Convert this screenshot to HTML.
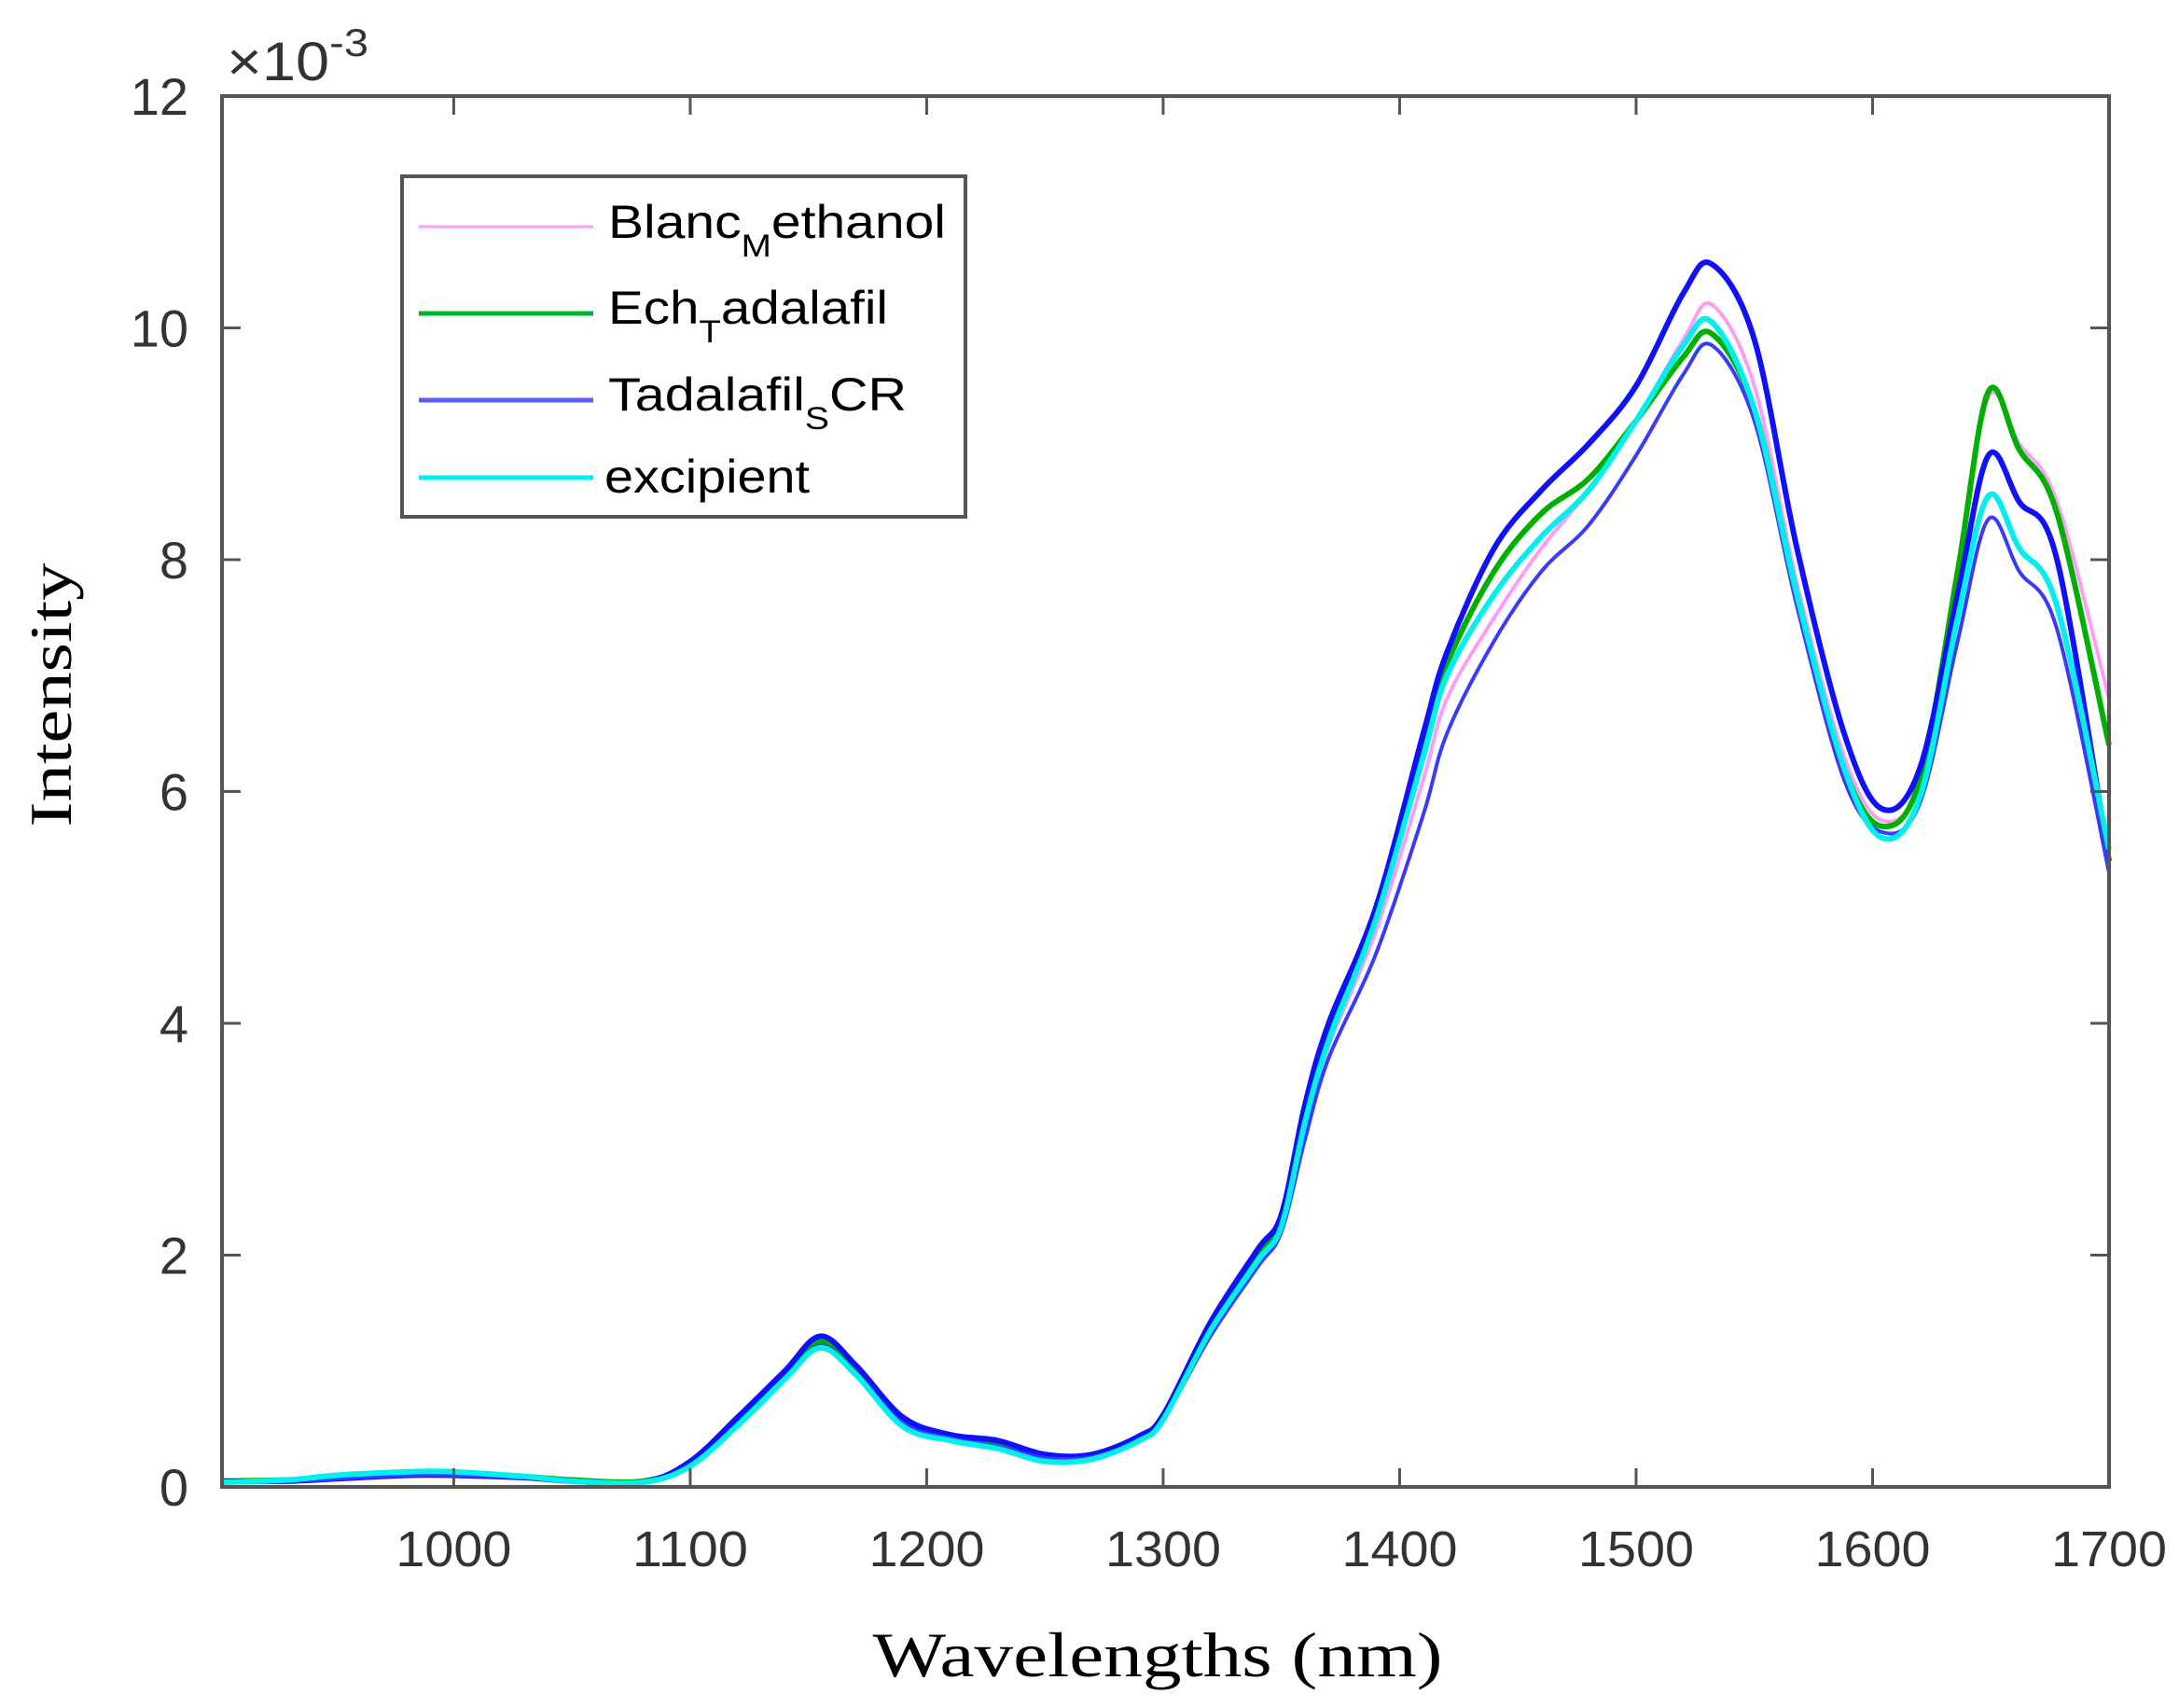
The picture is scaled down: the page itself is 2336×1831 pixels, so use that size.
<!DOCTYPE html>
<html><head><meta charset="utf-8"><style>
body{margin:0;background:#fff;}
svg{display:block;}
</style></head><body>
<svg id="chart" width="2336" height="1831" viewBox="0 0 2336 1831" xmlns="http://www.w3.org/2000/svg">
<rect width="2336" height="1831" fill="#fff"/>
<g id="series"></g>
<g id="axes"></g>
<g id="legend">
  <rect x="431" y="189" width="604" height="365" fill="#fff" stroke="#555" stroke-width="4"/>
  <line x1="449" y1="243" x2="636" y2="243" stroke="#ff9cf5" stroke-width="3"/>
  <text x="652" y="255" font-family="Liberation Sans, sans-serif" font-size="50" textLength="362" lengthAdjust="spacingAndGlyphs">Blanc<tspan font-size="34" dy="20">M</tspan><tspan dy="-20">ethanol</tspan></text>
  <line x1="449" y1="336" x2="636" y2="336" stroke="#00b530" stroke-width="5"/>
  <text x="652" y="347" font-family="Liberation Sans, sans-serif" font-size="50" textLength="300" lengthAdjust="spacingAndGlyphs">Ech<tspan font-size="34" dy="20">T</tspan><tspan dy="-20">adalafil</tspan></text>
  <line x1="449" y1="429" x2="636" y2="429" stroke="#5b5bff" stroke-width="5"/>
  <text x="652" y="440" font-family="Liberation Sans, sans-serif" font-size="50" textLength="320" lengthAdjust="spacingAndGlyphs">Tadalafil<tspan font-size="34" dy="20">S</tspan><tspan dy="-20">CR</tspan></text>
  <line x1="449" y1="512" x2="636" y2="512" stroke="#00f0f0" stroke-width="5"/>
  <text x="648" y="528" font-family="Liberation Sans, sans-serif" font-size="50" textLength="220" lengthAdjust="spacingAndGlyphs">excipient</text>
</g>
<text x="243" y="86" font-family="Liberation Sans, sans-serif" font-size="58" fill="#333" textLength="152" lengthAdjust="spacingAndGlyphs">×10<tspan font-size="42" dy="-26">-3</tspan></text>
<text transform="translate(76,745) rotate(-90)" text-anchor="middle" font-family="Liberation Serif, serif" font-size="64" textLength="283" lengthAdjust="spacingAndGlyphs">Intensity</text>
<text x="1241" y="1797" text-anchor="middle" font-family="Liberation Serif, serif" font-size="68" textLength="611" lengthAdjust="spacingAndGlyphs">Wavelengths (nm)</text>
</svg>
<script>
const wavelengths=[902,930,950,980,1000,1030,1050,1080,1100,1120,1140,1155,1170,1190,1210,1230,1250,1270,1290,1300,1320,1340,1350,1360,1370,1390,1410,1420,1440,1460,1480,1500,1520,1532,1550,1568,1588,1604,1620,1636,1649,1662,1678,1700];
const blancMethanol=[0.05,0.06,0.09,0.12,0.12,0.09,0.06,0.05,0.2,0.55,0.95,1.25,1.0,0.55,0.42,0.35,0.25,0.27,0.42,0.6,1.35,1.95,2.25,3.1,3.8,4.8,6.1,6.8,7.5,8.1,8.6,9.2,9.9,10.2,9.5,7.8,6.3,5.75,6.1,7.9,9.4,9.0,8.5,6.8];
const echTadalafil=[0.05,0.06,0.09,0.12,0.12,0.09,0.06,0.05,0.2,0.57,0.97,1.25,1.0,0.56,0.43,0.36,0.26,0.28,0.44,0.62,1.4,2.0,2.3,3.2,3.95,5.0,6.4,7.1,7.9,8.4,8.7,9.2,9.75,9.95,9.3,7.7,6.2,5.7,6.1,7.9,9.45,8.95,8.4,6.4];
const tadalafilSCR=[0.05,0.05,0.07,0.1,0.1,0.08,0.05,0.04,0.22,0.6,1.0,1.3,1.05,0.6,0.45,0.4,0.28,0.28,0.44,0.62,1.42,2.05,2.35,3.3,4.0,5.0,6.5,7.2,8.1,8.6,9.0,9.5,10.3,10.55,9.9,8.1,6.5,5.85,6.2,7.7,8.9,8.5,8.0,5.4];
const tadalafilSCR2=[0.05,0.05,0.07,0.1,0.1,0.08,0.05,0.04,0.18,0.52,0.92,1.22,0.98,0.55,0.42,0.35,0.25,0.26,0.4,0.58,1.3,1.9,2.2,3.0,3.7,4.6,5.8,6.5,7.3,7.9,8.3,8.9,9.6,9.85,9.2,7.6,6.1,5.65,5.9,7.3,8.35,7.9,7.4,5.3];
const excipient=[0.04,0.06,0.1,0.13,0.13,0.09,0.05,0.04,0.18,0.53,0.93,1.2,0.97,0.52,0.4,0.33,0.22,0.24,0.4,0.58,1.35,1.95,2.25,3.15,3.85,4.9,6.3,7.0,7.7,8.2,8.6,9.2,9.85,10.05,9.3,7.7,6.2,5.6,5.95,7.5,8.55,8.1,7.6,5.5];
const xTicks=[1000,1100,1200,1300,1400,1500,1600,1700];
const yTicks=[0,2,4,6,8,10,12];

const L=238,R=2261,T=103,B=1594,XMIN=902,XMAX=1700,YMIN=0,YMAX=12;
function xs(v){return L+(v-XMIN)/(XMAX-XMIN)*(R-L);}
function ys(v){return B-(v-YMIN)/(YMAX-YMIN)*(B-T);}
const NS='http://www.w3.org/2000/svg';
function mk(tag,attrs,parent){const e=document.createElementNS(NS,tag);for(const k in attrs)e.setAttribute(k,attrs[k]);parent.appendChild(e);return e;}
function pathFor(vals){
  const p=wavelengths.map((w,i)=>[xs(w),ys(vals[i])]);
  let d='M'+p[0][0]+','+p[0][1];
  for(let i=0;i<p.length-1;i++){
    const p0=p[Math.max(0,i-1)],p1=p[i],p2=p[i+1],p3=p[Math.min(p.length-1,i+2)];
    const c1x=p1[0]+(p2[0]-p0[0])/6,c1y=p1[1]+(p2[1]-p0[1])/6;
    const c2x=p2[0]-(p3[0]-p1[0])/6,c2y=p2[1]-(p3[1]-p1[1])/6;
    d+=' C'+c1x+','+c1y+' '+c2x+','+c2y+' '+p2[0]+','+p2[1];
  }
  return d;
}
const sg=document.getElementById('series');
const defs=[['blanc-methanol-line',blancMethanol,'#ff9cf5',4],['ech-tadalafil-line',echTadalafil,'#00b000',6],['tadalafil-scr-line',tadalafilSCR,'#1010ff',6],['tadalafil-scr-line-2',tadalafilSCR2,'#3a3aff',4],['excipient-line',excipient,'#00f0f0',6]];
defs.forEach(s=>{
  const el=mk('path',{d:pathFor(s[1]),fill:'none',stroke:s[2],'stroke-width':s[3],'stroke-linejoin':'round'},sg);
  
  
});
const ax=document.getElementById('axes');
const frame=mk('rect',{x:L,y:T,width:R-L,height:B-T,fill:'none',stroke:'#555','stroke-width':4},ax);


xTicks.forEach(t=>{
  const x=xs(t);
  mk('line',{x1:x,y1:B,x2:x,y2:B-20,stroke:'#555','stroke-width':3},ax);
  mk('line',{x1:x,y1:T,x2:x,y2:T+20,stroke:'#555','stroke-width':3},ax);
  const tx=mk('text',{x:x,y:B+85,'text-anchor':'middle','font-family':'Liberation Sans, sans-serif','font-size':54,fill:'#333',textLength:124,lengthAdjust:'spacingAndGlyphs'},ax);
  tx.textContent=t;
  
  
});
yTicks.forEach(t=>{
  const y=ys(t);
  mk('line',{x1:L,y1:y,x2:L+20,y2:y,stroke:'#555','stroke-width':3},ax);
  mk('line',{x1:R,y1:y,x2:R-20,y2:y,stroke:'#555','stroke-width':3},ax);
  const ty=mk('text',{x:L-36,y:y+20,'text-anchor':'end','font-family':'Liberation Sans, sans-serif','font-size':56,fill:'#333'},ax);
  ty.textContent=t;
  
  
});
</script>
</body></html>
